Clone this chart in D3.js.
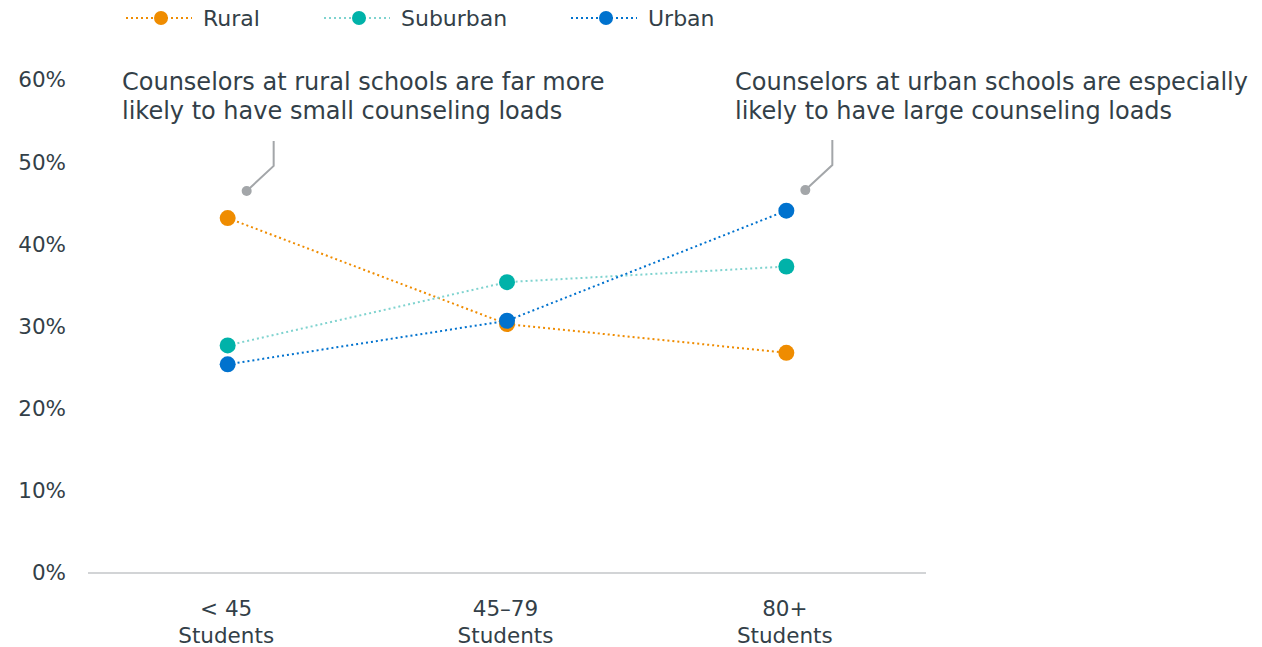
<!DOCTYPE html>
<html><head><meta charset="utf-8">
<script src="https://cdn.jsdelivr.net/npm/d3@7"></script>
<style>body{margin:0;background:#fff}svg{display:block;font-family:"DejaVu Sans",Verdana,sans-serif}</style>
</head><body><svg id="c" width="1262" height="647"></svg>
<script>
const categories = ["< 45|Students", "45–79|Students", "80+|Students"];
const rural = [43.2, 30.3, 26.8];
const suburban = [27.7, 35.4, 37.3];
const urban = [25.4, 30.7, 44.1];
const yTicks = [0, 10, 20, 30, 40, 50, 60];
const seriesNames = ["Rural", "Suburban", "Urban"];
const annotationCats = [0, 2];
const annotationVals = [46.5, 46.6];
const annotationTexts = [
  ["Counselors at rural schools are far more", "likely to have small counseling loads"],
  ["Counselors at urban schools are especially", "likely to have large counseling loads"]
];

// layout (not data)
const annTextX = [122, 735];
const series = [
  {name: seriesNames[0], values: rural, dot: "#ef8c00", line: "#ef8c00"},
  {name: seriesNames[1], values: suburban, dot: "#00b2a9", line: "#7fd3cf"},
  {name: seriesNames[2], values: urban, dot: "#0072ce", line: "#0072ce"}
];
const svg = d3.select("#c");
const textColor = "#333f48";
const FF = "DejaVu Sans, Verdana, sans-serif";
const x = d3.scalePoint().domain(categories).range([88, 926]).padding(0.5);
const y = d3.scaleLinear().domain([0, 60]).range([573, 80]);

// y axis labels
const ya = svg.append("g").attr("transform", "translate(66,0)")
  .call(d3.axisLeft(y).tickValues(yTicks).tickFormat(d => d + "%").tickSize(0).tickPadding(0));
ya.select(".domain").remove();
ya.selectAll("text").attr("font-size", 21.5).attr("fill", textColor).attr("font-family", FF);

// x axis
const xa = svg.append("g").attr("transform", "translate(0,573)")
  .call(d3.axisBottom(x).tickSize(0).tickPadding(0).tickFormat(""));
xa.select(".domain").attr("stroke", "#c3c6c9").attr("stroke-width", 1.5).attr("d", "M88,0H926");
xa.selectAll(".tick").each(function(d) {
  const t = d3.select(this).select("text").attr("font-size", 21.5).attr("fill", textColor)
    .attr("font-family", FF).attr("y", 0).attr("dy", null);
  d.split("|").forEach((s, i) => t.append("tspan").attr("x", -2).attr("y", 43 + i * 27).text(s));
});

// annotations
annotationCats.forEach((c, k) => {
  const px = x(categories[c]) + 19, py = y(annotationVals[k]);
  const ex = px + 27, ey = py - 25;
  svg.append("path").attr("d", `M${px},${py}L${ex},${ey}V${ey - 25}`)
    .attr("fill", "none").attr("stroke", "#a3a6a9").attr("stroke-width", 2);
  svg.append("circle").attr("cx", px).attr("cy", py).attr("r", 5).attr("fill", "#a3a6a9");
  const t = svg.append("text").attr("font-size", 24).attr("fill", textColor);
  annotationTexts[k].forEach((l, i) => t.append("tspan").attr("x", annTextX[k]).attr("y", 90 + i * 29).text(l));
});

// lines and points
const line = d3.line().x((d, i) => x(categories[i])).y(d => y(d));
series.forEach(s => {
  svg.append("path").datum(s.values).attr("d", line).attr("fill", "none")
    .attr("stroke", s.line).attr("stroke-width", 2).attr("stroke-dasharray", "2,3");
});
series.forEach(s => {
  svg.selectAll(null).data(s.values).enter().append("circle")
    .attr("cx", (d, i) => x(categories[i])).attr("cy", d => y(d)).attr("r", 8).attr("fill", s.dot);
});

// legend
const legX = [126, 324, 571];
series.forEach((s, i) => {
  const g = svg.append("g").attr("transform", `translate(${legX[i]},18)`);
  g.append("line").attr("x1", 0).attr("x2", 66).attr("y1", 0).attr("y2", 0)
    .attr("stroke", s.line).attr("stroke-width", 2).attr("stroke-dasharray", "2,3");
  g.append("circle").attr("cx", 35).attr("cy", 0).attr("r", 7).attr("fill", s.dot);
  g.append("text").attr("x", 77).attr("y", 8).attr("font-size", 22).attr("fill", textColor).text(s.name);
});
</script></body></html>
